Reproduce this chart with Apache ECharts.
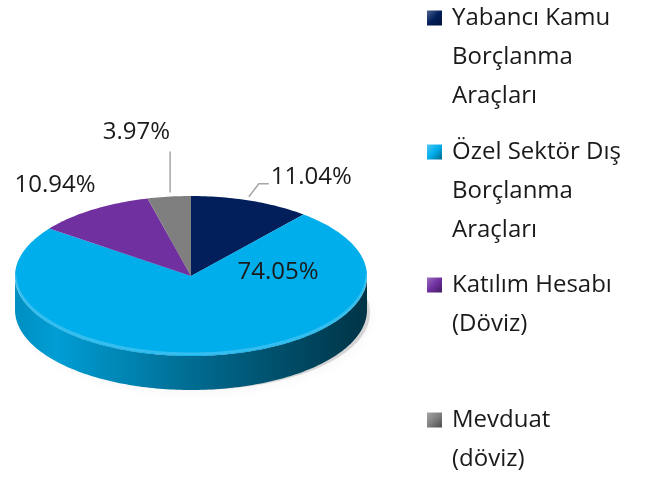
<!DOCTYPE html>
<html><head><meta charset="utf-8">
<script src="https://cdn.jsdelivr.net/npm/echarts@6/dist/echarts.min.js"></script>
<style>html,body{margin:0;padding:0;background:#fff}#c{width:649px;height:478px}</style>
</head><body><div id="c"></div>
<script>
// ---- data ----
const categories = ['Yabancı Kamu Borçlanma Araçları', 'Özel Sektör Dış Borçlanma Araçları', 'Katılım Hesabı (Döviz)', 'Mevduat (döviz)'];
const legendLabels = ['Yabancı Kamu\nBorçlanma\nAraçları', 'Özel Sektör Dış\nBorçlanma\nAraçları', 'Katılım Hesabı\n(Döviz)', 'Mevduat\n(döviz)'];
const values = [11.04, 74.05, 10.94, 3.97];

// ---- style ----
const colors = ['#021F5C', '#00AEEB', '#7030A0', '#7F7F7F'];
const FONT = '"Open Sans", sans-serif';
const CX = 191, CY = 276, RX = 176, RY = 80, DEPTH = 34;
const labelCfg = [
  {line: [[-2, -4], [8, -17], [18, -17]], text: [20, -24], align: 'left'},
  {inside: true, text: [87, -4], align: 'center'},
  {line: null, text: [3, -25], align: 'right'},
  {line: [[1, -4], [1, -45]], text: [1, -64], align: 'right'}
];
const LEGEND_CENTERS = [18, 152, 285, 420];
const LH = 39;

function shade(hex, f) {
  const n = parseInt(hex.slice(1), 16);
  let r = (n >> 16) & 255, g = (n >> 8) & 255, b = n & 255;
  if (f <= 1) { r *= f; g *= f; b *= f; }
  else { const t = f - 1; r += (255 - r) * t; g += (255 - g) * t; b += (255 - b) * t; }
  return 'rgb(' + Math.round(r) + ',' + Math.round(g) + ',' + Math.round(b) + ')';
}

const total = values.reduce((a, b) => a + b, 0);
const pt = (t, dy) => [CX + RX * Math.sin(t), CY - RY * Math.cos(t) + (dy || 0)];

function makeRender(i) {
  return function (params, api) {
    let start = 0;
    for (let k = 0; k < i; k++) start += values[k];
    const v = api.value(0);
    const a0 = start / total * 2 * Math.PI;
    const a1 = (start + v) / total * 2 * Math.PI;
    const children = [];
    const c = colors[i];
    if (i === 0) {
      children.push({type: 'ellipse', shape: {cx: CX + 5, cy: CY + DEPTH + 3, rx: RX - 2, ry: RY - 3},
        style: {fill: 'rgba(0,0,0,0.14)', shadowBlur: 12, shadowColor: 'rgba(0,0,0,0.3)', shadowOffsetY: 2}, z2: 0});
    }
    // side wall (visible front part)
    const w0 = Math.max(a0, Math.PI / 2), w1 = Math.min(a1, 1.5 * Math.PI);
    if (w1 > w0) {
      const M = Math.max(2, Math.ceil((w1 - w0) / 0.02));
      const pts = [];
      for (let j = 0; j <= M; j++) pts.push(pt(w0 + (w1 - w0) * j / M));
      for (let j = M; j >= 0; j--) pts.push(pt(w0 + (w1 - w0) * j / M, DEPTH));
      children.push({type: 'polygon', shape: {points: pts}, z2: 2,
        style: {fill: new echarts.graphic.LinearGradient(0, 0, 1, 0, [
          {offset: 0, color: shade(c, 0.82)},
          {offset: 0.12, color: shade(c, 0.9)},
          {offset: 0.5, color: shade(c, 0.62)},
          {offset: 0.8, color: shade(c, 0.42)},
          {offset: 1, color: shade(c, 0.3)}
        ])}});
    }
    // top face
    const N = Math.max(2, Math.ceil((a1 - a0) / 0.02));
    const top = [[CX, CY]];
    for (let j = 0; j <= N; j++) top.push(pt(a0 + (a1 - a0) * j / N));
    children.push({type: 'polygon', shape: {points: top}, style: {fill: c}, z2: 10});
    // rim highlight on the front edge
    if (w1 > w0) {
      const M = Math.max(2, Math.ceil((w1 - w0) / 0.02));
      const rim = [];
      for (let j = 0; j <= M; j++) rim.push(pt(w0 + (w1 - w0) * j / M, -2));
      children.push({type: 'polyline', shape: {points: rim}, z2: 11,
        style: {stroke: 'rgba(255,255,255,0.2)', lineWidth: 3, fill: null}});
    }
    // label
    const cfg = labelCfg[i];
    const txt = v.toFixed(2) + '%';
    const mid = (a0 + a1) / 2;
    const anc = cfg.inside ? [CX, CY] : pt(mid);
    if (cfg.line) {
      children.push({type: 'polyline', z2: 19,
        shape: {points: cfg.line.map(p => [anc[0] + p[0], anc[1] + p[1]])},
        style: {stroke: '#A6A6A6', lineWidth: 1.5, fill: null}});
    }
    children.push({type: 'text', z2: 20, x: anc[0] + cfg.text[0], y: anc[1] + cfg.text[1],
      style: {text: txt, fill: '#1a1a1a', font: '24px ' + FONT, align: cfg.align, verticalAlign: 'middle'}});
    return {type: 'group', children: children};
  };
}

const series = categories.map((name, i) => ({
  type: 'custom', name: name, coordinateSystem: 'none',
  itemStyle: {color: colors[i]},
  renderItem: makeRender(i),
  data: [[values[i]]],
  silent: true
}));

const legends = categories.map((name, i) => {
  const n = legendLabels[i].split('\n').length;
  const pad = new Array(n).join('\n'); // n-1 blank lines so first line sits on the icon
  return {
    data: [{name: name, itemStyle: {color: new echarts.graphic.LinearGradient(0, 0, 1, 1, [
      {offset: 0, color: shade(colors[i], 1.3)},
      {offset: 0.5, color: colors[i]},
      {offset: 1, color: shade(colors[i], 0.6)}])}}],
    orient: 'vertical', left: 427, top: LEGEND_CENTERS[i] - (2 * n - 1) * LH / 2,
    padding: 0, itemWidth: 15, itemHeight: 15, itemGap: 0, selectedMode: false,
    icon: 'rect',
    formatter: () => pad + legendLabels[i],
    textStyle: {fontFamily: FONT, fontSize: 24, lineHeight: LH, color: '#1a1a1a', padding: [0, 0, 0, 5]}
  };
});

const chart = echarts.init(document.getElementById('c'), null, {renderer: 'canvas'});
chart.setOption({
  animation: false,
  backgroundColor: '#fff',
  legend: legends,
  series: series
});
</script>
</body></html>
